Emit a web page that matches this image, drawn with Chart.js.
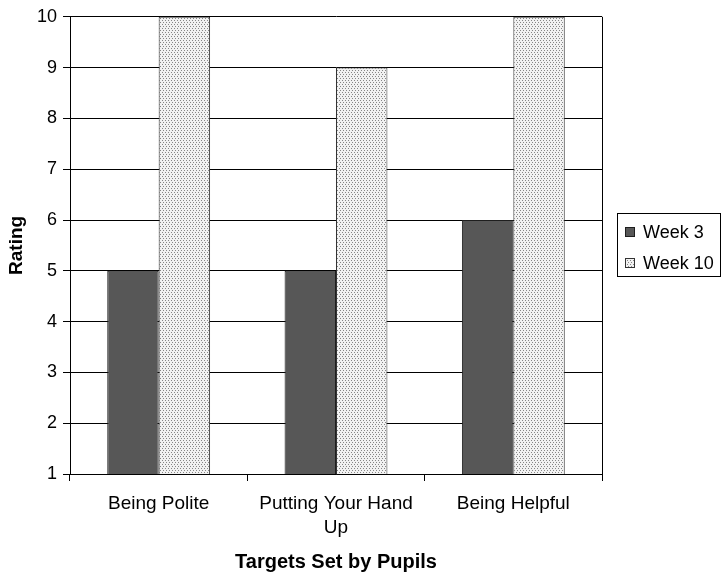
<!DOCTYPE html>
<html>
<head>
<meta charset="utf-8">
<script src="https://cdn.jsdelivr.net/npm/chart.js@4/dist/chart.umd.min.js"></script>
<style>
  html, body { margin: 0; padding: 0; background: #fff; }
  #wrap { width: 722px; height: 574px; }
</style>
</head>
<body>
<div id="wrap"><canvas id="c" width="722" height="574"></canvas></div>
<script>
// Targets set by pupils, rated in week 3 and week 10
const categories = [['Being Polite'], ['Putting Your Hand', 'Up'], ['Being Helpful']];
const seriesNames = ['Week 3', 'Week 10'];
const week3 = [5, 5, 6];
const week10 = [10, 9, 10];
const yTicks = [1, 2, 3, 4, 5, 6, 7, 8, 9, 10];

const FONT = "Arial, 'Liberation Sans', Helvetica, sans-serif";

// Stippled fill used for the Week 10 bars
function dotPattern() {
  const t = document.createElement('canvas');
  t.width = 6; t.height = 4;
  const g = t.getContext('2d');
  g.fillStyle = '#f2f2f2';
  g.fillRect(0, 0, 6, 4);
  g.fillStyle = '#878787';
  g.fillRect(0, 0, 1, 1);
  g.fillRect(3, 0, 1, 1);
  g.fillRect(1, 2, 1, 1);
  g.fillRect(4, 2, 1, 1);
  return g.createPattern(t, 'repeat');
}
const dots = dotPattern();

// Closes the plot frame on the right side
const frame = {
  id: 'frame',
  afterDraw(chart) {
    const { ctx, chartArea: a } = chart;
    ctx.save();
    ctx.strokeStyle = '#000';
    ctx.lineWidth = 1;
    ctx.beginPath();
    ctx.moveTo(Math.round(a.right) + 0.5, a.top);
    ctx.lineTo(Math.round(a.right) + 0.5, a.bottom);
    ctx.stroke();
    ctx.restore();
  }
};

// Boxed legend to the right of the plot
const boxLegend = {
  id: 'boxLegend',
  afterDraw(chart) {
    const { ctx } = chart;
    const x0 = 617.5, y0 = 213.5, w = 103, h = 63;
    ctx.save();
    ctx.strokeStyle = '#000';
    ctx.lineWidth = 1;
    ctx.strokeRect(x0, y0, w, h);
    ctx.font = '18px ' + FONT;
    ctx.textBaseline = 'middle';
    ctx.textAlign = 'left';
    chart.data.datasets.forEach((ds, i) => {
      const cy = 232 + i * 31;
      ctx.fillStyle = ds.backgroundColor;
      ctx.fillRect(625, cy - 5, 10, 10);
      ctx.strokeStyle = ds.borderColor;
      ctx.strokeRect(625.5, cy - 4.5, 9, 9);
      ctx.fillStyle = '#000';
      ctx.fillText(ds.label, 643, cy + 1);
    });
    ctx.restore();
  }
};

new Chart(document.getElementById('c'), {
  type: 'bar',
  data: {
    labels: categories,
    datasets: [
      {
        label: seriesNames[0],
        data: week3,
        backgroundColor: '#575757',
        borderColor: '#1e1e1e',
        borderWidth: 1,
        borderSkipped: 'start'
      },
      {
        label: seriesNames[1],
        data: week10,
        backgroundColor: dots,
        borderColor: '#333',
        borderWidth: 1,
        borderSkipped: 'start'
      }
    ]
  },
  options: {
    responsive: false,
    animation: false,
    devicePixelRatio: 1,
    layout: { padding: { top: 14, right: 120, bottom: 0, left: 0 } },
    datasets: { bar: { categoryPercentage: 0.58, barPercentage: 1 } },
    plugins: {
      legend: { display: false },
      tooltip: { enabled: false }
    },
    scales: {
      x: {
        offset: true,
        afterFit(scale) { scale.height = 100; },
        grid: {
          offset: true,
          drawOnChartArea: false,
          drawTicks: true,
          tickLength: 7,
          color: '#000',
          lineWidth: 1
        },
        border: { display: true, color: '#000', width: 1 },
        ticks: {
          color: '#000',
          padding: 11,
          maxRotation: 0,
          autoSkip: false,
          font: { family: FONT, size: 19, lineHeight: 1.27 }
        },
        title: {
          display: true,
          text: 'Targets Set by Pupils',
          color: '#000',
          padding: { top: 0, bottom: 0 },
          font: { family: FONT, size: 20, weight: 'bold' }
        }
      },
      y: {
        min: yTicks[0],
        max: yTicks[yTicks.length - 1],
        afterFit(scale) { scale.width = 70; },
        afterBuildTicks(scale) { scale.ticks = yTicks.map(v => ({ value: v })); },
        grid: {
          color: '#000',
          lineWidth: 1,
          drawTicks: true,
          tickLength: 7
        },
        border: { display: true, color: '#000', width: 1 },
        ticks: {
          color: '#000',
          padding: 6,
          font: { family: FONT, size: 18 }
        },
        title: {
          display: true,
          text: 'Rating',
          color: '#000',
          padding: { top: 5, bottom: 0 },
          font: { family: FONT, size: 19, weight: 'bold' }
        }
      }
    }
  },
  plugins: [frame, boxLegend]
});
</script>
</body>
</html>
